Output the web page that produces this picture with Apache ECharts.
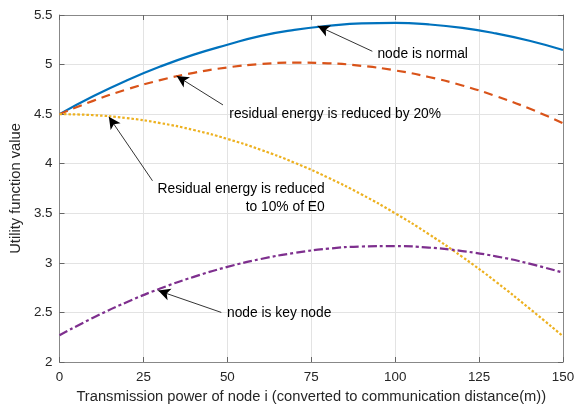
<!DOCTYPE html>
<html>
<head>
<meta charset="utf-8">
<script src="https://cdn.jsdelivr.net/npm/echarts@6/dist/echarts.min.js"></script>
<style>html,body{margin:0;padding:0;background:#fff}#c{width:588px;height:409px}</style>
</head>
<body>
<div id="c"></div>
<script>
const xValues = [0,10,20,30,40,50,60,70,80,90,100,110,120,130,140,150];
const normal = [4.50,4.68,4.84,4.98,5.10,5.20,5.29,5.35,5.39,5.416,5.42,5.405,5.37,5.314,5.24,5.147];
const reduced20 = [4.50,4.634,4.749,4.843,4.917,4.971,5.005,5.019,5.013,4.987,4.941,4.875,4.789,4.682,4.556,4.409];
const reduced10 = [4.50,4.49,4.46,4.41,4.34,4.25,4.14,4.01,3.86,3.69,3.50,3.29,3.06,2.81,2.54,2.26];
const keyNode = [2.27,2.446,2.603,2.741,2.859,2.959,3.039,3.100,3.143,3.165,3.169,3.154,3.119,3.066,2.992,2.901];
const xTicks = [0,25,50,75,100,125,150];
const yTicks = [2,2.5,3,3.5,4,4.5,5,5.5];
const xName = 'Transmission power of node i (converted to communication distance(m))';
const yName = 'Utility function value';
// annotations: [text, textX, textY, lineStartX, lineStartY, tipX, tipY, side]
const notes = [
  ['node is normal', 94.7, 5.108, 93.2, 5.134, 76.9, 5.39, 'right'],
  ['residual energy is reduced by 20%', 50.6, 4.50, 48.7, 4.593, 34.9, 4.885, 'right'],
  ['Residual energy is reduced\nto 10% of E0', 79.0, 3.65, 27.7, 3.828, 14.7, 4.473, 'left'],
  ['node is key node', 49.9, 2.49, 48.2, 2.50, 29.4, 2.72, 'right']
];

const pairs = a => xValues.map((x,i)=>[x,a[i]]);
const FONT = 'Liberation Sans, Arial, sans-serif';

function annot(n){
  return {
    markLine: {
      silent: true, animation: false,
      symbol: ['none','arrow'], symbolSize: [9,12],
      lineStyle: {color:'#000', width:0.8, type:'solid'},
      label: {show:false},
      data: [[{coord:[n[3],n[4]]},{coord:[n[5],n[6]]}]]
    },
    markPoint: {
      silent: true, animation: false,
      symbol: 'circle', symbolSize: 0,
      data: [{coord:[n[1],n[2]], value: n[0]}],
      label: {
        show: true, position: n[7], distance: 0,
        formatter: n[0], color:'#000', fontSize: 13.8, fontFamily: FONT,
        align: n[7]==='left' ? 'right' : 'left', lineHeight: 18
      }
    }
  };
}

const chart = echarts.init(document.getElementById('c'), null, {renderer:'canvas'});
const axisCommon = {
  type:'value',
  axisLine:{show:true, onZero:false, lineStyle:{color:'#888', width:1}},
  axisTick:{show:true, inside:true, length:5, lineStyle:{color:'#666'}},
  splitLine:{show:true, lineStyle:{color:'#e3e3e3', width:1}},
  axisLabel:{color:'#262626', fontSize:13.4, fontFamily:FONT}
};
const lineSeries = (name, data, color, type, width) => ({
  name, type:'line', data: pairs(data), smooth: true, showSymbol:false, symbol:'none',
  lineStyle:{color, width, type}, animation:false
});

const s1 = Object.assign(lineSeries('normal', normal, '#0072BD', 'solid', 2.2), annot(notes[0]));
const s2 = Object.assign(lineSeries('reduced20', reduced20, '#D95319', [9,6], 2.2), annot(notes[1]));
const s3 = Object.assign(lineSeries('reduced10', reduced10, '#EDB120', [2.5,2], 2.2), annot(notes[2]));
const s4 = Object.assign(lineSeries('key', keyNode, '#7E2F8E', [9,3,3,3], 2.2), annot(notes[3]));

chart.setOption({
  backgroundColor:'#fff',
  grid:{left:57.6, right:25, top:15, bottom:43, containLabel:false},
  xAxis:[
    Object.assign({}, axisCommon, {min:0, max:150, interval:25, position:'bottom',
      name:xName, nameLocation:'middle', nameGap:27,
      nameTextStyle:{color:'#262626', fontSize:14.7, fontFamily:FONT},
      axisLabel:Object.assign({}, axisCommon.axisLabel, {margin:9})}),
    Object.assign({}, axisCommon, {min:0, max:150, interval:25, position:'top',
      axisLabel:{show:false}, splitLine:{show:false}})
  ],
  yAxis:[
    Object.assign({}, axisCommon, {min:2, max:5.5, interval:0.5, position:'left',
      name:yName, nameLocation:'middle', nameGap:30, nameRotate:90,
      nameTextStyle:{color:'#262626', fontSize:14.7, fontFamily:FONT},
      axisLabel:Object.assign({}, axisCommon.axisLabel, {margin:7, formatter: v => String(v)})}),
    Object.assign({}, axisCommon, {min:2, max:5.5, interval:0.5, position:'right',
      axisLabel:{show:false}, splitLine:{show:false}})
  ],
  series:[s1,s2,s3,s4]
});
</script>
</body>
</html>
